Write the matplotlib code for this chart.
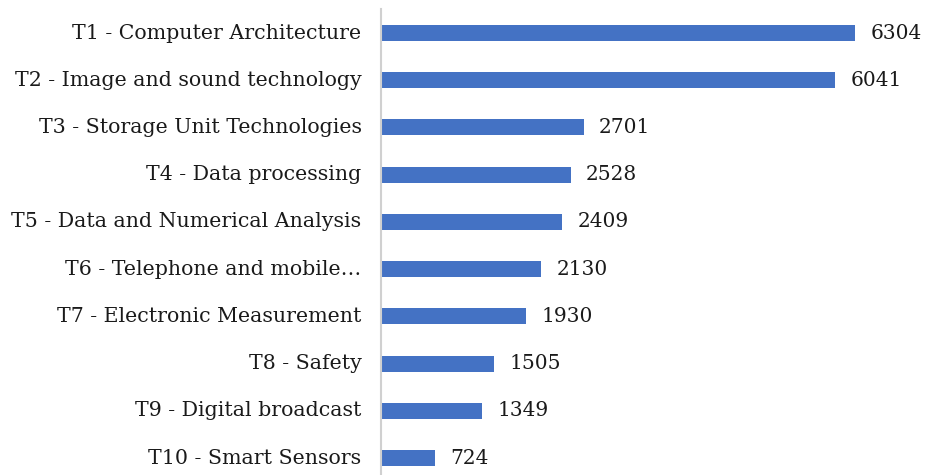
import matplotlib
matplotlib.use("Agg")
import matplotlib.pyplot as plt

categories = [
    "T1 - Computer Architecture",
    "T2 - Image and sound technology",
    "T3 - Storage Unit Technologies",
    "T4 - Data processing",
    "T5 - Data and Numerical Analysis",
    "T6 - Telephone and mobile…",
    "T7 - Electronic Measurement",
    "T8 - Safety",
    "T9 - Digital broadcast",
    "T10 - Smart Sensors",
]
values = [6304, 6041, 2701, 2528, 2409, 2130, 1930, 1505, 1349, 724]

plt.rcParams['font.family'] = ['DejaVu Serif', 'Liberation Serif']

fig = plt.figure(figsize=(9.27, 4.75), dpi=100)
ax = fig.add_axes([381/927, 0, (927-381)/927, (475-9.4)/475])

pos = list(range(len(categories)))
ax.barh(pos, values, height=0.34, color="#4472C4")
for p, v in zip(pos, values):
    ax.text(v + 200, p, f"{v}", va="center", ha="left", fontsize=14.5, color="#1a1a1a")

ax.set_xlim(0, 7260)
ax.set_ylim(9.36, -0.5)
ax.set_yticks(pos)
ax.set_yticklabels(categories, fontsize=14.8, color="#1a1a1a", va="center")
ax.tick_params(axis="y", length=0, pad=14)
ax.set_xticks([])
for s in ["top", "right", "bottom"]:
    ax.spines[s].set_visible(False)
ax.spines["left"].set_color("#d0d0d0")
ax.spines["left"].set_linewidth(1.5)

fig.savefig("out.png", dpi=100)
